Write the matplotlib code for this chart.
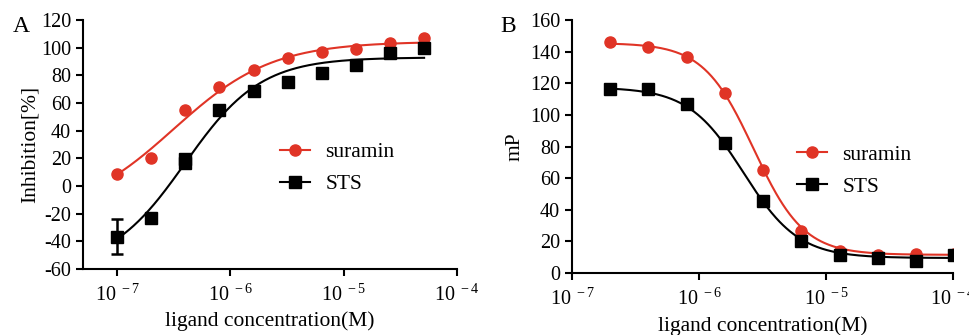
import numpy as np
import matplotlib
matplotlib.use('Agg')
from matplotlib import pyplot as plt
from matplotlib.ticker import FixedLocator, NullLocator

plt.rcParams['font.family'] = ['Liberation Serif', 'DejaVu Serif']
plt.rcParams['mathtext.fontset'] = 'custom'
plt.rcParams['mathtext.rm'] = 'Liberation Serif'
plt.rcParams['mathtext.it'] = 'Liberation Serif'
plt.rcParams['axes.unicode_minus'] = False

# panel A: inhibition data
conc_a = [1e-7, 2e-7, 4e-7, 4e-7, 8e-7, 1.6e-6, 3.2e-6, 6.4e-6, 1.28e-5, 2.56e-5, 5.12e-5]
conc_a_sur = [1e-7, 2e-7, 4e-7, 8e-7, 1.6e-6, 3.2e-6, 6.4e-6, 1.28e-5, 2.56e-5, 5.12e-5]
suramin_a = [8.4, 20.5, 55.0, 71.5, 83.6, 92.3, 97.0, 98.8, 103.6, 106.7]
sts_a = [-36.6, -23.4, 19.8, 16.9, 54.7, 68.7, 75.4, 81.4, 87.7, 96.4, 100.0]
sts_a_err = [12.9, 0, 0, 0, 0, 0, 0, 0, 0, 0, 0]

# panel B: mP data
conc_b = [2e-7, 4e-7, 8e-7, 1.6e-6, 3.2e-6, 6.4e-6, 1.28e-5, 2.56e-5, 5.12e-5, 1.024e-4]
suramin_b = [146.3, 143.2, 136.8, 113.7, 65.3, 26.7, 13.7, 11.6, 12.2, 12.2]
sts_b = [116.2, 116.2, 106.9, 82.5, 45.3, 20.4, 11.6, 9.5, 7.4, 11.6]

# fitted 4PL parameters (bottom, top, logEC50, hill)
fit_suramin_a = (-22.0, 104.5, -6.5, 1.0)
fit_sts_a = (-60.0, 93.0, -6.4, 1.3)
fit_suramin_b = (11.5, 145.5, -5.57, -2.2)
fit_sts_b = (9.5, 117.5, -5.65, -2.0)

RED = '#e03426'
BLACK = '#000000'


def four_pl(logx, p):
    bottom, top, logec50, hill = p
    return bottom + (top - bottom) / (1 + 10 ** ((logec50 - logx) * hill))


def style_axes(ax):
    for s in ['top', 'right']:
        ax.spines[s].set_visible(False)
    for s in ['left', 'bottom']:
        ax.spines[s].set_linewidth(1.5)
    ax.tick_params(width=1.5, length=5, labelsize=14.5, direction='out')
    ax.tick_params(axis='x', pad=6)
    ax.set_xscale('log')
    ax.xaxis.set_major_locator(FixedLocator([1e-7, 1e-6, 1e-5, 1e-4]))
    ax.xaxis.set_minor_locator(NullLocator())
    ax.set_xticklabels([r'$10^{\ -7}$', r'$10^{\ -6}$', r'$10^{\ -5}$', r'$10^{\ -4}$'])


def draw(ax, conc_sur, sur, conc_sts, sts, p_sur, p_sts, err=None):
    lx = np.log10(conc_sur)
    xs = np.linspace(lx[0], lx[-1], 300)
    ax.plot(10 ** xs, four_pl(xs, p_sur), color=RED, lw=1.5)
    ax.plot(10 ** xs, four_pl(xs, p_sts), color=BLACK, lw=1.5)
    if err is not None:
        ax.errorbar(conc_sts, sts, yerr=err, fmt='none', ecolor=BLACK, elinewidth=1.8,
                    capsize=4, capthick=1.8)
    ax.plot(conc_sur, sur, 'o', color=RED, ms=8, zorder=4)
    ax.plot(conc_sts, sts, 's', color=BLACK, ms=8, zorder=4)
    # legend proxies
    ax.plot([], [], '-o', color=RED, ms=8, lw=1.5, label='suramin')
    ax.plot([], [], '-s', color=BLACK, ms=8, lw=1.5, label='STS')


fig = plt.figure(figsize=(9.7, 3.35), dpi=100)
ax1 = fig.add_axes([0.0856, 0.197, 0.3856, 0.743])
ax2 = fig.add_axes([0.5897, 0.185, 0.3928, 0.755])

draw(ax1, conc_a_sur, suramin_a, conc_a, sts_a, fit_suramin_a, fit_sts_a, err=sts_a_err)
style_axes(ax1)
ax1.set_xlim(10 ** -7.3, 1e-4)
ax1.set_ylim(-60, 120)
ax1.set_yticks(np.arange(-60, 121, 20))
ax1.set_ylabel('Inhibition[%]', fontsize=15.5, labelpad=1)
ax1.set_xlabel('ligand concentration(M)', fontsize=15.5, labelpad=4)
ax1.legend(loc='center left', bbox_to_anchor=(0.475, 0.405), frameon=False,
           fontsize=15.5, handlelength=1.4, labelspacing=0.55, handletextpad=0.7)
fig.text(0.013, 0.905, 'A', fontsize=17)

draw(ax2, conc_b, suramin_b, conc_b, sts_b, fit_suramin_b, fit_sts_b)
style_axes(ax2)
ax2.set_xlim(1e-7, 1e-4)
ax2.set_ylim(0, 160)
ax2.set_yticks(np.arange(0, 161, 20))
ax2.set_ylabel('mP', fontsize=15.5, labelpad=4)
ax2.set_xlabel('ligand concentration(M)', fontsize=15.5, labelpad=5)
ax2.legend(loc='center left', bbox_to_anchor=(0.54, 0.405), frameon=False,
           fontsize=15.5, handlelength=1.4, labelspacing=0.55, handletextpad=0.7)
fig.text(0.516, 0.905, 'B', fontsize=17)

fig.savefig('out.png', dpi=100)
